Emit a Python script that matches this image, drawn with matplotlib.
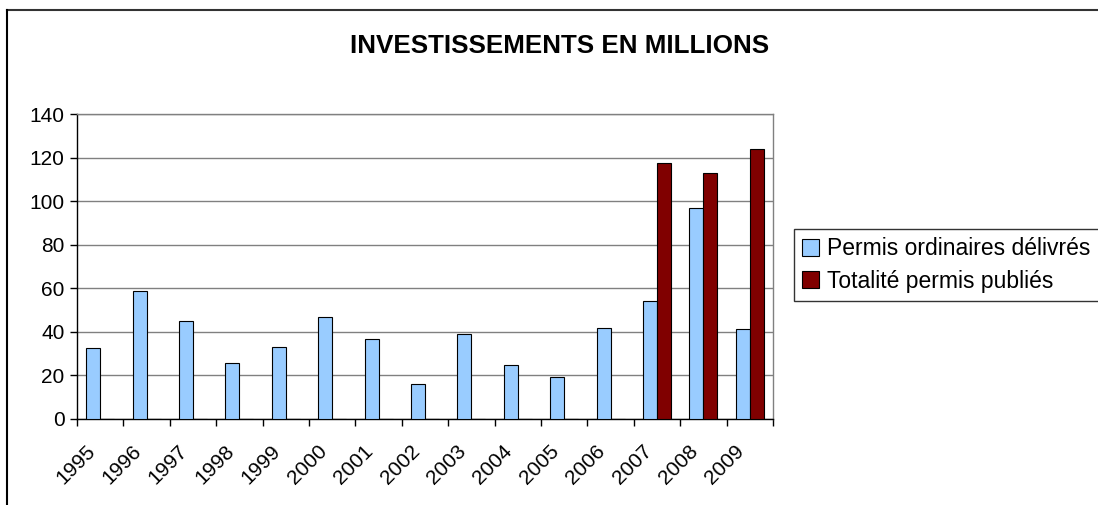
import numpy as np
import matplotlib.pyplot as plt
from matplotlib.lines import Line2D
from matplotlib.transforms import ScaledTranslation

plt.rcParams['font.family'] = ['Liberation Sans', 'DejaVu Sans']

years = ['1995', '1996', '1997', '1998', '1999', '2000', '2001', '2002',
         '2003', '2004', '2005', '2006', '2007', '2008', '2009']
permis_ordinaires = [32.4, 58.7, 45, 25.7, 33, 46.9, 36.8, 16.2,
                     38.8, 24.9, 19.3, 41.7, 54.3, 96.9, 41.1]
totalite_permis = [0, 0, 0, 0, 0, 0, 0, 0,
                   0, 0, 0, 0, 117.6, 113.1, 124]

W, H = 1098, 505
fig = plt.figure(figsize=(W / 100, H / 100), dpi=100)
ax = fig.add_axes([77 / W, 1 - 419 / H, 696 / W, 305 / H])

x = np.arange(len(years))
bw = 0.3
ax.bar(x - bw / 2, permis_ordinaires, bw, color='#99CCFF', edgecolor='black',
       linewidth=0.8, label='Permis ordinaires délivrés', zorder=3)
ax.bar(x + bw / 2, totalite_permis, bw, color='#800000', edgecolor='black',
       linewidth=0.8, label='Totalité permis publiés', zorder=3)

ax.set_xlim(-0.5, len(years) - 0.5)
ax.set_ylim(0, 140)
ax.set_yticks(range(0, 141, 20))
ax.yaxis.grid(True, color='#808080', linewidth=1)
ax.set_axisbelow(True)

# étiquettes au centre, graduations entre les catégories
ax.set_xticks(x)
ax.set_xticklabels(years, rotation=45, ha='right', rotation_mode='anchor')
ax.set_xticks(np.arange(-0.5, len(years)), minor=True)
ax.tick_params(axis='x', which='major', length=0, pad=9, labelsize=15)
ax.tick_params(axis='x', which='minor', length=5, width=1, direction='out')
ax.tick_params(axis='y', length=5, width=1, direction='out', labelsize=15, pad=4)

decal = ScaledTranslation(-15 / 100, -10 / 100, fig.dpi_scale_trans)
for lab in ax.get_xticklabels():
    lab.set_transform(lab.get_transform() + decal)

for s in ['left', 'bottom']:
    ax.spines[s].set_color('black')
    ax.spines[s].set_linewidth(1)
for s in ['top', 'right']:
    ax.spines[s].set_color('#808080')
    ax.spines[s].set_linewidth(1)

fig.text(560 / W, 1 - 46 / H, 'INVESTISSEMENTS EN MILLIONS', ha='center', va='center',
         fontsize=18.7, fontweight='bold')

leg = fig.legend(loc='center left', bbox_to_anchor=(794 / W, 1 - 265 / H),
                 fontsize=16.5, frameon=True, fancybox=False, edgecolor='black',
                 handlelength=0.75, handleheight=0.75, handletextpad=0.35,
                 borderpad=0.35, labelspacing=0.42, borderaxespad=0)
leg.get_frame().set_linewidth(1)

# cadre du graphique
fig.add_artist(Line2D([7 / W, 1], [1 - 10 / H, 1 - 10 / H], color='#333333',
                      linewidth=1.5, transform=fig.transFigure))
fig.add_artist(Line2D([7 / W, 7 / W], [0, 1 - 10 / H], color='black',
                      linewidth=1.5, transform=fig.transFigure))

fig.savefig('out.png', dpi=100)
